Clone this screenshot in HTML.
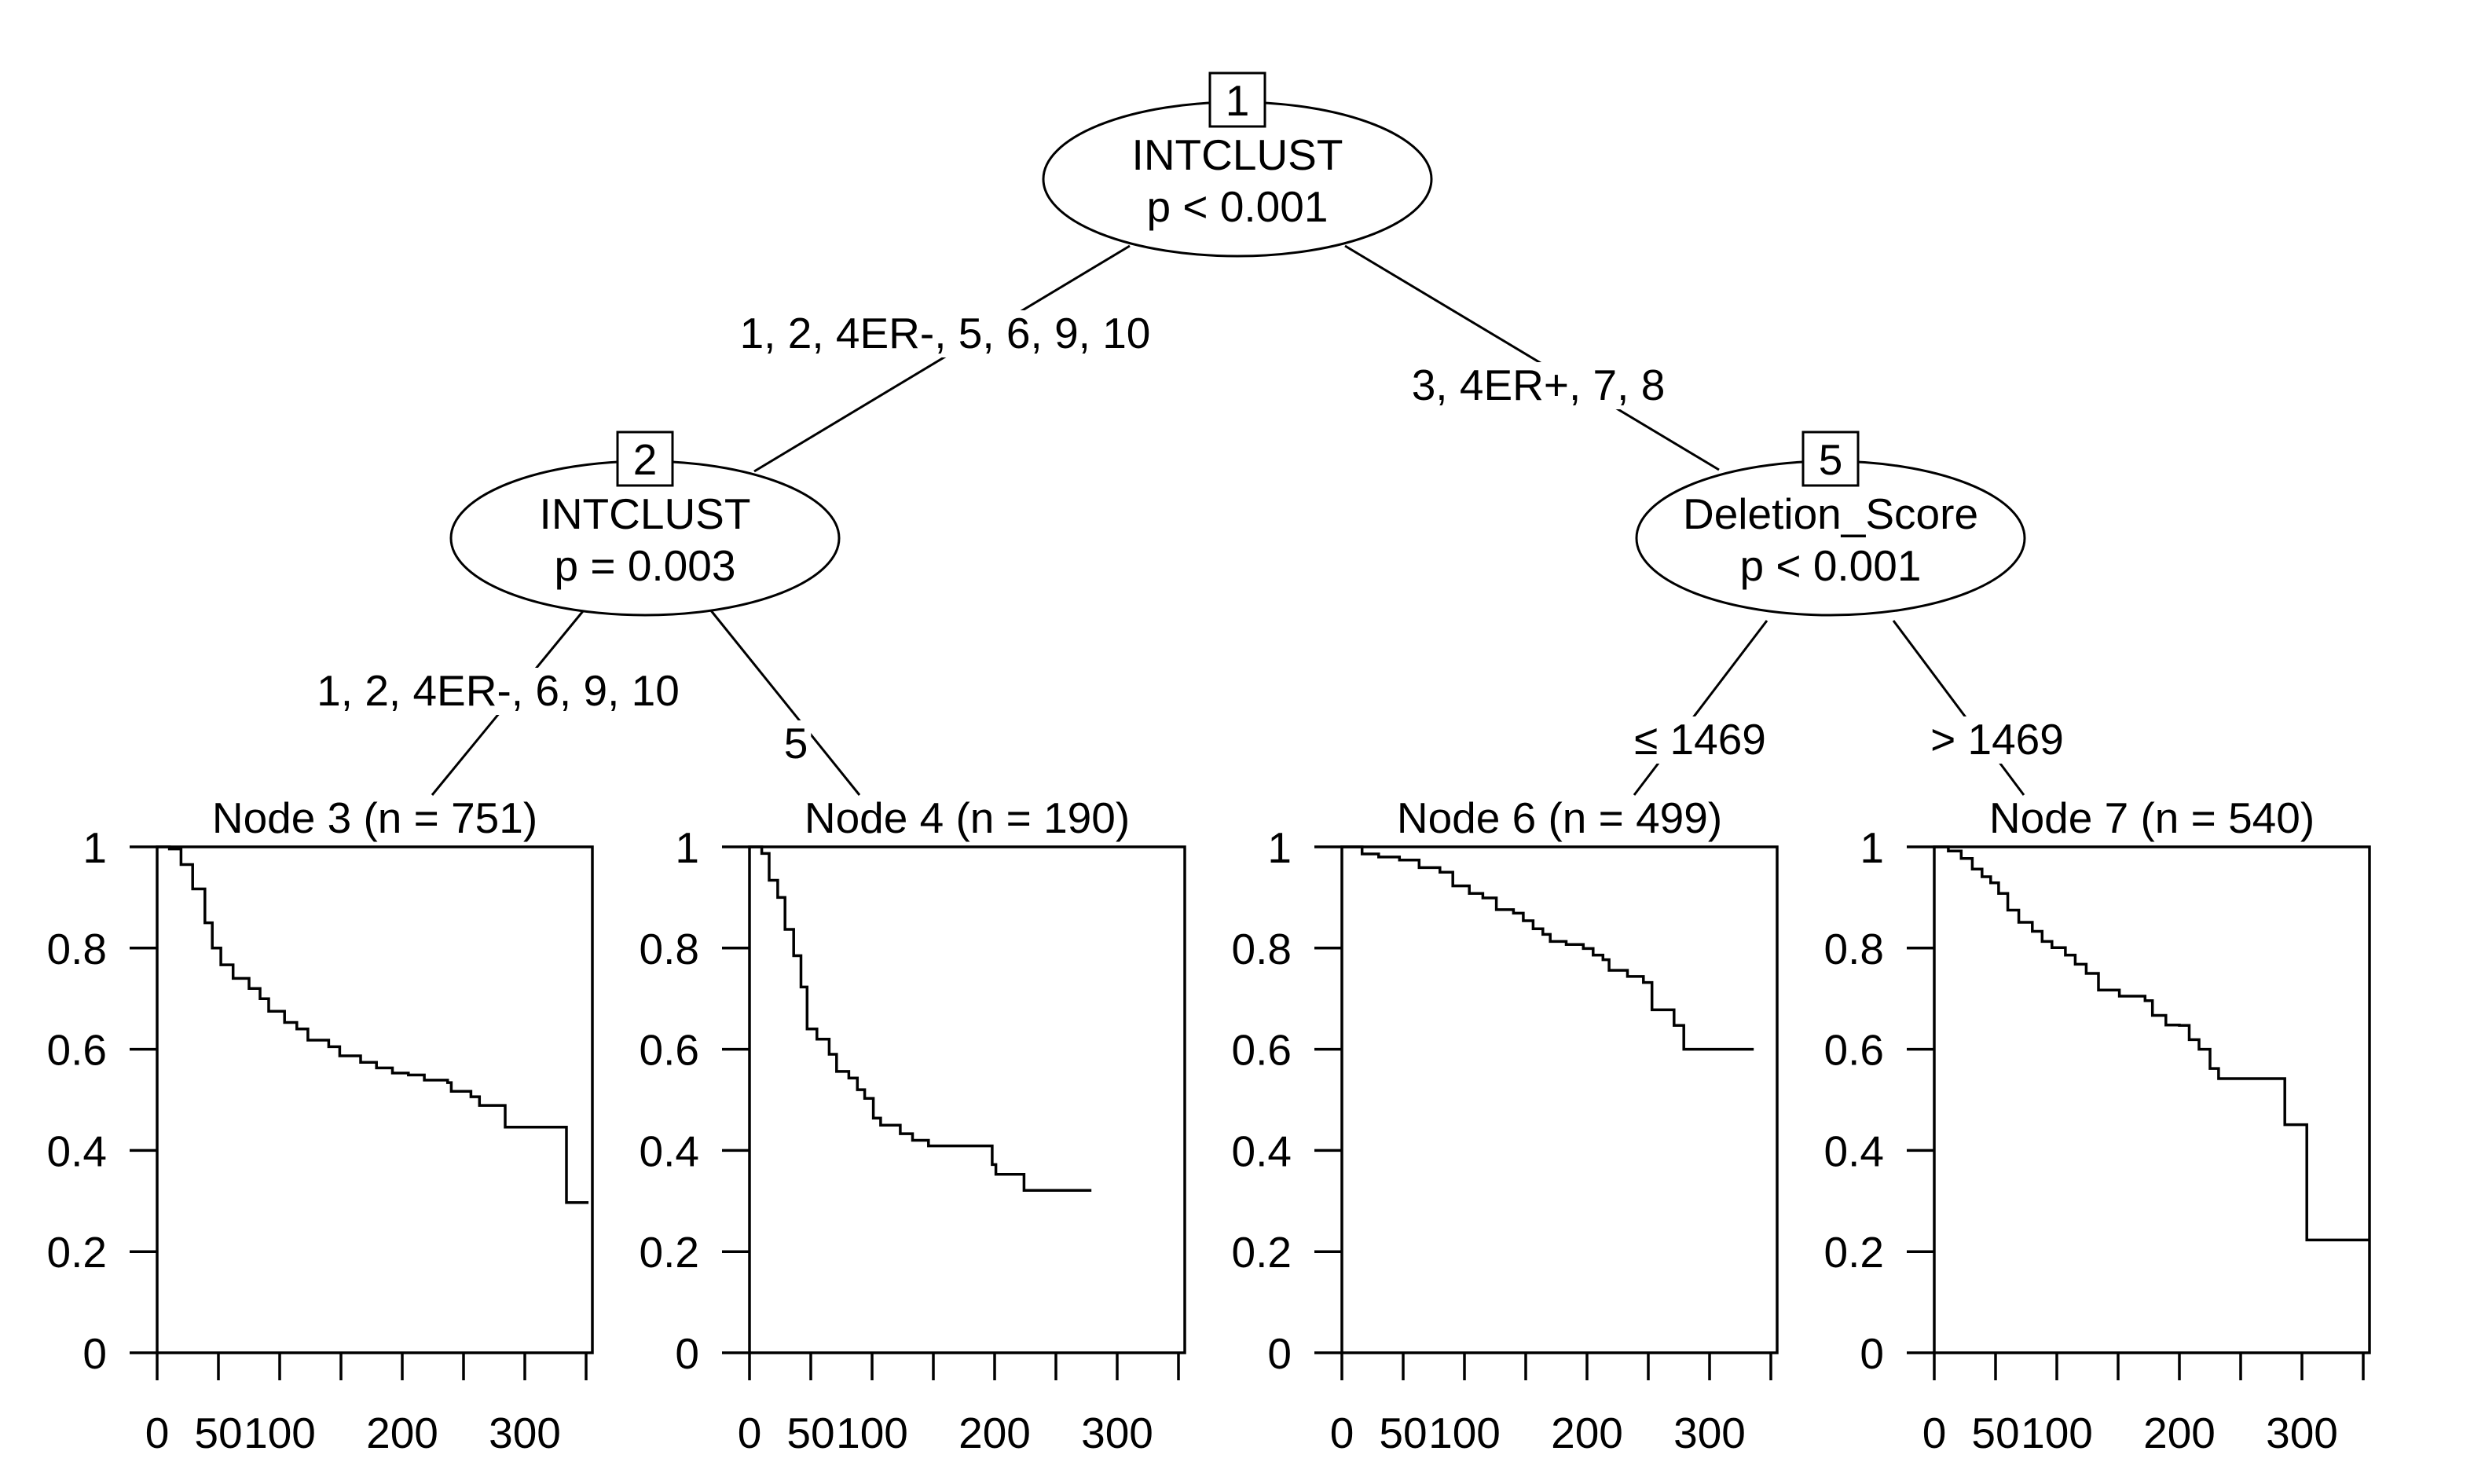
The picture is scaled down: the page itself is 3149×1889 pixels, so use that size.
<!DOCTYPE html>
<html><head><meta charset="utf-8">
<style>
html,body{margin:0;padding:0;background:#fff;}
svg{display:block;font-family:"Liberation Sans",Arial,sans-serif;}
</style></head>
<body>
<svg id="chart" width="3149" height="1889" viewBox="0 0 3149 1889" xmlns="http://www.w3.org/2000/svg">
<rect x="0" y="0" width="3149" height="1889" fill="#fff"/>
<g id="tree"></g>
<g id="panels"></g>
</svg>
<script>
// ---- data ----
const nodeTitles = ["Node 3 (n = 751)", "Node 4 (n = 190)", "Node 6 (n = 499)", "Node 7 (n = 540)"];
const yTicks = [0, 0.2, 0.4, 0.6, 0.8, 1];
const yTickLabels = ["0", "0.2", "0.4", "0.6", "0.8", "1"];
const xTicks = [0, 50, 100, 150, 200, 250, 300, 350];
const xTickLabels = ["0", "50", "100", "", "200", "", "300", ""];
const node3Time = [0,10,19.5,29,39,45,52,62,75,84,91,104,114,123,140,149,166,179,192,205,218,237,240,256,263,284,334,352];
const node3Surv = [1,.996,.965,.917,.85,.8,.767,.74,.72,.70,.675,.653,.64,.618,.605,.587,.574,.563,.553,.549,.539,.534,.517,.506,.489,.446,.297,.297];
const node4Time = [0,10,16,23,29,36,42,47,55,65,71,81,88,94,101,107,123,133,146,198,201,224,279];
const node4Surv = [1,.987,.934,.9,.837,.785,.723,.64,.62,.59,.556,.543,.52,.503,.464,.45,.433,.42,.409,.372,.353,.321,.321];
const node6Time = [0,16.5,30,47,63,80,90.5,104,115,126,140,148,156,164,170,183,197,205,213,218,233,246,253,271,279,336];
const node6Surv = [1,.986,.98,.974,.959,.95,.923,.908,.899,.876,.869,.854,.838,.827,.813,.807,.799,.786,.777,.756,.744,.732,.678,.647,.6,.6];
const node7Time = [0,11.5,22,31,39,46,52.5,60,69,80,88,96,107,115,124,134,151,172,178,189,200,208,216,225,232,286,304,356];
const node7Surv = [1,.992,.977,.956,.941,.929,.908,.875,.851,.833,.813,.801,.786,.768,.75,.717,.705,.696,.667,.648,.647,.619,.6,.562,.542,.451,.223,.223];

const NS = "http://www.w3.org/2000/svg";
function mk(tag, attrs, parent){
  const e = document.createElementNS(NS, tag);
  for (const k in attrs) e.setAttribute(k, attrs[k]);
  parent.appendChild(e);
  return e;
}
const FS = 55;
const tree = document.getElementById('tree');
const panels = document.getElementById('panels');

// ---- edges ----
const edges = [
  {x1:1438,y1:313,x2:960,y2:600,label:"1, 2, 4ER-, 5, 6, 9, 10",lx:1203,ly:443},
  {x1:1712,y1:313,x2:2188,y2:598,label:"3, 4ER+, 7, 8",lx:1958,ly:509},
  {x1:742,y1:778,x2:550,y2:1012,label:"1, 2, 4ER-, 6, 9, 10",lx:634,ly:898},
  {x1:904,y1:776,x2:1094,y2:1012,label:"5",lx:1013,ly:965},
  {x1:2249,y1:790,x2:2080,y2:1012,label:"\u2264 1469",lx:2164,ly:960},
  {x1:2410,y1:790,x2:2576,y2:1012,label:"> 1469",lx:2542,ly:960}
];
edges.forEach(function(ed){
  const l = mk('line',{x1:ed.x1,y1:ed.y1,x2:ed.x2,y2:ed.y2,stroke:'#000','stroke-width':3},tree);
  
  
  const t = mk('text',{x:ed.lx,y:ed.ly,'text-anchor':'middle','font-size':FS,fill:'#000'},tree);
  t.textContent = ed.label;
  
  
  const bb = t.getBBox();
  const r = mk('rect',{x:bb.x-4,y:bb.y+2,width:bb.width+8,height:bb.height-2,fill:'#fff'},tree);
  
  
  tree.insertBefore(r, t);
});

// ---- inner nodes ----
const inner = [
  {cx:1575,cy:228,id:"1",v:"INTCLUST",p:"p < 0.001"},
  {cx:821,cy:685,id:"2",v:"INTCLUST",p:"p = 0.003"},
  {cx:2330,cy:685,id:"5",v:"Deletion_Score",p:"p < 0.001"}
];
inner.forEach(function(n){
  const e = mk('ellipse',{cx:n.cx,cy:n.cy,rx:247,ry:98,fill:'#fff',stroke:'#000','stroke-width':3},tree);
  
  
  const b = mk('rect',{x:n.cx-35,y:n.cy-135,width:70,height:68,fill:'#fff',stroke:'#000','stroke-width':3},tree);
  
  
  const t0 = mk('text',{x:n.cx,y:n.cy-81,'text-anchor':'middle','font-size':FS},tree);
  t0.textContent = n.id;
  
  
  const t1 = mk('text',{x:n.cx,y:n.cy-12,'text-anchor':'middle','font-size':FS},tree);
  t1.textContent = n.v;
  
  
  const t2 = mk('text',{x:n.cx,y:n.cy+54,'text-anchor':'middle','font-size':FS},tree);
  t2.textContent = n.p;
  
  
});

// ---- panels ----
const panelLefts = [200, 954, 1708, 2462];
const PW = 554, TOP = 1078, BOT = 1722, PXU = 1.56;
const series = [[node3Time,node3Surv],[node4Time,node4Surv],[node6Time,node6Surv],[node7Time,node7Surv]];
panelLefts.forEach(function(L, i){
  const g = mk('g',{},panels);
  
  
  const xs = function(t){ return L + t*PXU; };
  const ys = function(s){ return BOT - s*(BOT-TOP); };
  const title = mk('text',{x:L+PW/2,y:1060,'text-anchor':'middle','font-size':FS},g);
  title.textContent = nodeTitles[i];
  
  
  const T = series[i][0], S = series[i][1];
  let d = 'M'+xs(T[0])+','+ys(S[0]);
  for (let k=1;k<T.length;k++){ d += ' H'+xs(T[k]).toFixed(1)+' V'+ys(S[k]).toFixed(1); }
  const c = mk('path',{d:d,fill:'none',stroke:'#000','stroke-width':3.5},g);
  
  
  const box = mk('rect',{x:L,y:TOP,width:PW,height:BOT-TOP,fill:'none',stroke:'#000','stroke-width':3.5},g);
  
  
  yTicks.forEach(function(v, j){
    const tk = mk('line',{x1:L-35,x2:L,y1:ys(v),y2:ys(v),stroke:'#000','stroke-width':3.5},g);
    
    
    const tl = mk('text',{x:L-64,y:ys(v)+20,'text-anchor':'end','font-size':FS},g);
    tl.textContent = yTickLabels[j];
    
    
  });
  xTicks.forEach(function(v, j){
    const tk = mk('line',{x1:xs(v),x2:xs(v),y1:BOT,y2:BOT+35,stroke:'#000','stroke-width':3.5},g);
    
    
    if (xTickLabels[j]){
      const tl = mk('text',{x:xs(v),y:1843,'text-anchor':'middle','font-size':FS},g);
      tl.textContent = xTickLabels[j];
      
      
    }
  });
});
</script>
</body></html>
